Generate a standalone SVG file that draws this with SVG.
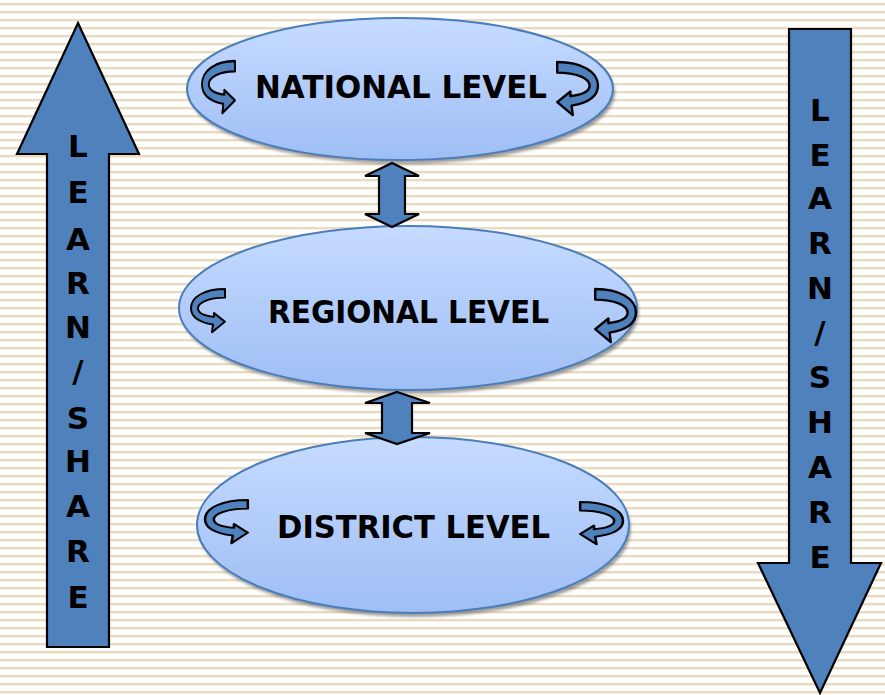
<svg xmlns="http://www.w3.org/2000/svg" xmlns:xlink="http://www.w3.org/1999/xlink" width="885" height="695" viewBox="0 0 885 695">
<style>
.bg{fill:url(#stripes)}
.ell{fill:url(#ellGrad);stroke:#4A7EBB;stroke-width:2}
.shadow{fill:#5f5f5f;opacity:0.6;filter:url(#blur)}
.arr{fill:#4F81BD;stroke:#000;stroke-width:2.2;stroke-linejoin:miter}
.curl{fill:#4F81BD;stroke:#000;stroke-width:2;vector-effect:non-scaling-stroke;stroke-linejoin:round}
.lbl{font-family:"DejaVu Sans","Liberation Sans",sans-serif;font-weight:bold;font-size:32px;fill:#000}
.let{font-family:"DejaVu Sans","Liberation Sans",sans-serif;font-weight:bold;font-size:31px;fill:#000;text-anchor:middle}
</style>
<defs>
<pattern id="stripes" x="0" y="0" width="885" height="8" patternUnits="userSpaceOnUse">
<rect x="0" y="0" width="885" height="8" fill="#ffffff"/>
<rect x="0" y="3" width="885" height="2.4" fill="#EADBBF"/>
</pattern>
<linearGradient id="ellGrad" x1="0" y1="0" x2="0" y2="1">
<stop offset="0" stop-color="#C6DBFF"/>
<stop offset="1" stop-color="#9EBEF5"/>
</linearGradient>
<filter id="blur" x="-10%" y="-10%" width="120%" height="130%">
<feGaussianBlur stdDeviation="1.5"/>
</filter>
<path id="curlL" d="M34,0 C14,0 0,8 0,20 C0,30 10,35 22,37 L21,45 L34,34 L23,25 L23,29 C14,28 7,25 7,20 C7,14 18,9 34,9 Z"/>
</defs>

<rect class="bg" x="0" y="0" width="885" height="695"/>

<g id="learn-share-up">
<path class="arr" d="M78,23 L139,154 L109,154 L109,647 L47,647 L47,154 L17,154 Z"/>
<text class="let" x="78" y="157">L</text>
<text class="let" x="78" y="203">E</text>
<text class="let" x="78" y="250">A</text>
<text class="let" x="78" y="294">R</text>
<text class="let" x="78" y="338">N</text>
<text class="let" x="78" y="382">/</text>
<text class="let" x="78" y="429">S</text>
<text class="let" x="78" y="472">H</text>
<text class="let" x="78" y="517">A</text>
<text class="let" x="78" y="562">R</text>
<text class="let" x="78" y="608">E</text>
</g>

<g id="learn-share-down">
<path class="arr" d="M789,29 L851,29 L851,563 L881,563 L820,693 L758,563 L789,563 Z"/>
<text class="let" x="820" y="121">L</text>
<text class="let" x="820" y="166">E</text>
<text class="let" x="820" y="209">A</text>
<text class="let" x="820" y="254">R</text>
<text class="let" x="820" y="299">N</text>
<text class="let" x="820" y="343">/</text>
<text class="let" x="820" y="388">S</text>
<text class="let" x="820" y="433">H</text>
<text class="let" x="820" y="478">A</text>
<text class="let" x="820" y="523">R</text>
<text class="let" x="820" y="568">E</text>
</g>

<g id="national">
<ellipse class="shadow" cx="402" cy="93" rx="213" ry="71"/>
<ellipse class="ell" cx="400" cy="89" rx="213" ry="71"/>
<use xlink:href="#curlL" class="curl" transform="translate(202,61) scale(0.97,1.16)"/>
<use xlink:href="#curlL" class="curl" transform="translate(598,62) scale(-1.2,1.18)"/>
<text class="lbl" x="255" y="98" textLength="292" lengthAdjust="spacingAndGlyphs">NATIONAL LEVEL</text>
</g>

<g id="regional">
<ellipse class="shadow" cx="410" cy="312" rx="229" ry="82"/>
<ellipse class="ell" cx="408" cy="308" rx="229" ry="82"/>
<use xlink:href="#curlL" class="curl" transform="translate(191,289) scale(1,0.96)"/>
<use xlink:href="#curlL" class="curl" transform="translate(636,289) scale(-1.2,1.18)"/>
<text class="lbl" x="268" y="323" textLength="281" lengthAdjust="spacingAndGlyphs">REGIONAL LEVEL</text>
</g>

<g id="district">
<ellipse class="shadow" cx="415" cy="529" rx="216" ry="88"/>
<ellipse class="ell" cx="413" cy="525" rx="216" ry="88"/>
<use xlink:href="#curlL" class="curl" transform="translate(205,500) scale(1.26,0.96)"/>
<use xlink:href="#curlL" class="curl" transform="translate(623,502) scale(-1.26,0.94)"/>
<text class="lbl" x="277" y="538" textLength="273" lengthAdjust="spacingAndGlyphs">DISTRICT LEVEL</text>
</g>

<g id="connectors">
<path class="arr" d="M392,163 L419,176 L405,176 L405,214 L419,214 L392,227 L365,214 L379,214 L379,176 L365,176 Z"/>
<path class="arr" d="M397,392 L430,403 L412,403 L412,433 L430,433 L397,444 L365,433 L382,433 L382,403 L365,403 Z"/>
</g>
</svg>
